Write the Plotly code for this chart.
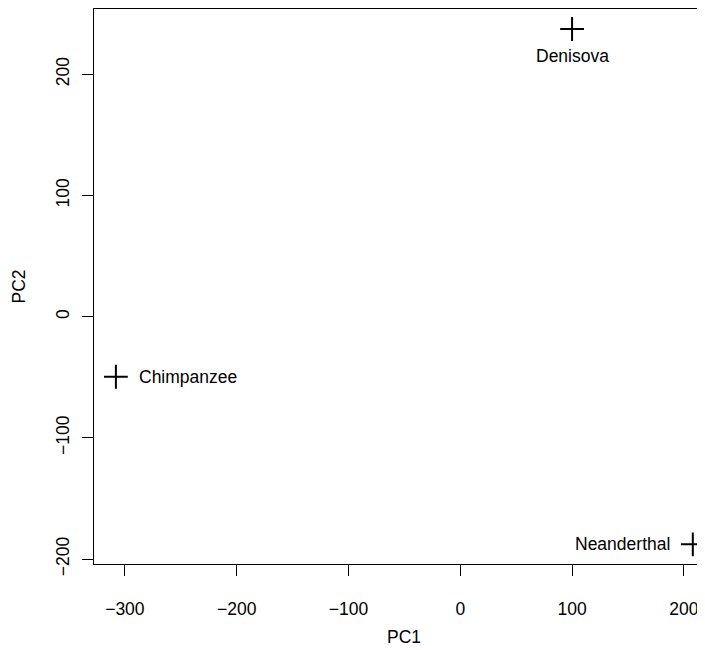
import plotly.graph_objects as go

samples = ["Chimpanzee", "Denisova", "Neanderthal"]
pc1 = [-308.0, 100.0, 208.0]
pc2 = [-49.5, 237.4, -187.8]
x_ticks = [-300, -200, -100, 0, 100, 200]
y_ticks = [-200, -100, 0, 100, 200]

FONT = "Liberation Sans, Arial, Helvetica, sans-serif"
FS = 17.5

fig = go.Figure()
fig.add_trace(go.Scatter(
    x=pc1, y=pc2, mode="markers", cliponaxis=False,
    marker=dict(symbol="cross-thin-open", size=17, color="black",
                line=dict(color="black", width=2)),
    showlegend=False, hoverinfo="skip",
))

# label placement (R text pos: 1=below, 4=right, 2=left)
label_pos = {"Chimpanzee": "right", "Denisova": "below", "Neanderthal": "left"}
for name, x, y in zip(samples, pc1, pc2):
    p = label_pos[name]
    if p == "below":
        fig.add_annotation(x=x, y=y, text=name, showarrow=False, xanchor="center",
                           yanchor="middle", yshift=-27, font=dict(family=FONT, size=FS, color="black"))
    elif p == "right":
        fig.add_annotation(x=x, y=y, text=name, showarrow=False, xanchor="left",
                           yanchor="middle", xshift=21, font=dict(family=FONT, size=FS, color="black"))
    else:
        fig.add_annotation(x=x, y=y, text=name, showarrow=False, xanchor="right",
                           yanchor="middle", xshift=-21, font=dict(family=FONT, size=FS, color="black"))

PLOT_H = 555
fig.add_annotation(x=-50, xref="x", y=-(628.7 - 556) / PLOT_H, yref="paper", text="PC1",
                   showarrow=False, xanchor="center", yanchor="middle",
                   font=dict(family=FONT, size=FS, color="black"))

fig.update_layout(
    width=697, height=642,
    margin=dict(l=86, r=0, t=1, b=86),
    plot_bgcolor="white", paper_bgcolor="white",
    font=dict(family=FONT, size=FS, color="black"),
    xaxis=dict(range=[-327.6, 218.9], showgrid=False, zeroline=False,
               showline=True, linecolor="black", linewidth=1, mirror=True,
               ticks="outside", ticklen=11, tickcolor="black", tickwidth=1,
               tickvals=x_ticks, ticklabelstandoff=18,
               tickfont=dict(family=FONT, size=FS, color="black")),
    yaxis=dict(range=[-204.0, 253.9], showgrid=False, zeroline=False,
               showline=True, linecolor="black", linewidth=1,
               ticks="outside", ticklen=11, tickcolor="black", tickwidth=1,
               tickvals=y_ticks, tickangle=-90, ticklabelstandoff=6,
               title=dict(text="PC2", standoff=22,
                          font=dict(family=FONT, size=FS, color="black")),
               tickfont=dict(family=FONT, size=FS, color="black")),
)

fig.write_html("out.html")
